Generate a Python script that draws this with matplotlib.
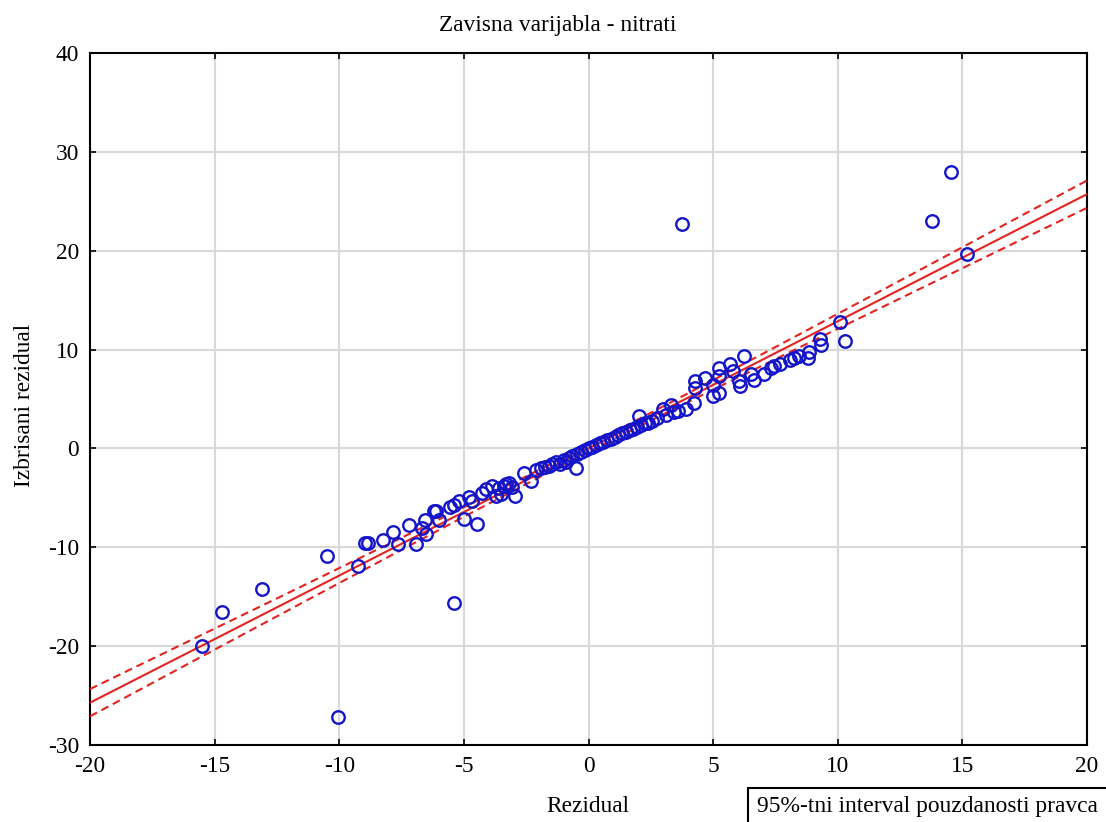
import matplotlib
matplotlib.use("Agg")
import matplotlib.pyplot as plt
import numpy as np
from matplotlib.patches import Rectangle

plt.rcParams['font.family'] = ['Liberation Serif', 'DejaVu Serif']
plt.rcParams['axes.unicode_minus'] = False

title = "Zavisna varijabla - nitrati"
xlabel = "Rezidual"
ylabel = "Izbrisani rezidual"
legend_text = "95%-tni interval pouzdanosti pravca"

x_ticks = [-20, -15, -10, -5, 0, 5, 10, 15, 20]
y_ticks = [-30, -20, -10, 0, 10, 20, 30, 40]

rezidual = [
    -15.5, -14.7, -13.1, -10.5, -10.05, -9.25, -8.96, -8.85, -8.25, -7.85,
    -7.65, -7.22, -6.92, -6.68, -6.57, -6.52, -6.21, -6.12, -6.01, -5.54,
    -5.41, -5.4, -5.18, -4.98, -4.8, -4.67, -4.49, -4.29, -4.13, -3.87,
    -3.73, -3.6, -3.5, -3.4, -3.3, -3.2, -3.05, -2.95, -2.59, -2.32,
    -2.1, -1.9, -1.75, -1.6, -1.45, -1.3, -1.15, -1.0, -0.9, -0.8,
    -0.65, -0.49, -0.45, -0.3, -0.15, 0.0, 0.15, 0.3, 0.45, 0.6,
    0.75, 0.9, 1.05, 1.2, 1.35, 1.5, 1.65, 1.8, 1.95, 2.03,
    2.1, 2.25, 2.4, 2.55, 2.75, 2.97, 3.1, 3.3, 3.45, 3.6,
    3.76, 3.9, 4.24, 4.28, 4.28, 4.68, 4.98, 5.0, 5.22, 5.25,
    5.25, 5.67, 5.78, 6.02, 6.08, 6.25, 6.52, 6.65, 7.05, 7.32,
    7.46, 7.7, 8.1, 8.26, 8.46, 8.8, 8.86, 9.29, 9.32, 10.11,
    10.3, 13.8, 14.53, 15.17,
]
izbrisani = [
    -20.0, -16.5, -14.2, -10.9, -27.2, -11.85, -9.56, -9.6, -9.29, -8.41,
    -9.63, -7.7, -9.66, -8.04, -7.19, -8.64, -6.35, -6.28, -7.19, -5.94,
    -5.74, -15.6, -5.33, -7.09, -4.9, -5.33, -7.63, -4.49, -4.15, -3.82,
    -4.83, -4.0, -4.6, -3.85, -3.55, -3.45, -3.95, -4.8, -2.46, -3.31,
    -2.2, -1.95, -1.9, -1.75, -1.55, -1.4, -1.6, -1.2, -1.35, -0.95,
    -0.8, -1.96, -0.55, -0.4, -0.2, 0.0, 0.15, 0.35, 0.5, 0.7,
    0.85, 1.0, 1.15, 1.4, 1.55, 1.7, 1.85, 2.0, 2.2, 3.3,
    2.35, 2.6, 2.55, 2.8, 3.1, 3.95, 3.4, 4.4, 3.7, 3.8,
    22.7, 3.95, 4.63, 6.82, 6.15, 7.16, 5.3, 6.4, 5.6, 8.18,
    7.33, 8.58, 7.83, 6.82, 6.31, 9.35, 7.5, 6.92, 7.5, 8.18,
    8.34, 8.55, 8.9, 9.19, 9.35, 9.19, 9.76, 11.1, 10.44, 12.8,
    10.87, 23.0, 27.96, 19.65,
]

# regression line and 95% band
slope = 1.286
intercept = 0.0
band_center = 0.35   # half-width at x = 0
band_edge = 1.38     # half-width at x = +/-20

W, H = 1106, 822
fig = plt.figure(figsize=(W / 100, H / 100), dpi=100)
ax = fig.add_axes([90 / W, 1 - 745 / H, (1087 - 90) / W, (745 - 53) / H])

ax.set_xlim(-20, 20)
ax.set_ylim(-30, 40)
ax.set_xticks(x_ticks)
ax.set_yticks(y_ticks)
ax.grid(True, color='#d9d9d9', lw=1.5, zorder=0)
ax.set_axisbelow(True)
ax.tick_params(direction='in', length=4, width=1.2, top=True, right=True,
               labelsize=16.8, pad=8, color='black')
for s in ax.spines.values():
    s.set_linewidth(1.5)
    s.set_color('black')

xs = np.linspace(-20, 20, 200)
yfit = slope * xs + intercept
b = np.sqrt((band_edge ** 2 - band_center ** 2) / 400.0)
hw = np.sqrt(band_center ** 2 + (b * xs) ** 2)
red = '#e3231f'
ax.plot(xs, yfit, color=red, lw=1.5, zorder=3)
ax.plot(xs, yfit + hw, color=red, lw=1.5, ls=(0, (3.8, 2.4)), zorder=3)
ax.plot(xs, yfit - hw, color=red, lw=1.5, ls=(0, (3.8, 2.4)), zorder=3)

ax.plot(rezidual, izbrisani, 'o', mfc='none', mec='#1414c8', mew=1.7,
        ms=9, zorder=4, clip_on=False)

fig.text(558 / W, 1 - 25 / H, title, ha='center', va='center', fontsize=16.8)
fig.text(588 / W, 1 - 806 / H, xlabel, ha='center', va='center', fontsize=16.8)
fig.text(25 / W, 1 - 405 / H, ylabel, ha='center', va='center', fontsize=16.8,
         rotation=90)

rect = Rectangle((748 / W, 1 - 840 / H), (1120 - 748) / W, (840 - 788) / H,
                 transform=fig.transFigure, fill=False, ec='black', lw=1.5)
fig.patches.append(rect)
fig.text(757 / W, 1 - 806 / H, legend_text, ha='left', va='center',
         fontsize=16.9)

fig.savefig('out.png', dpi=100)
